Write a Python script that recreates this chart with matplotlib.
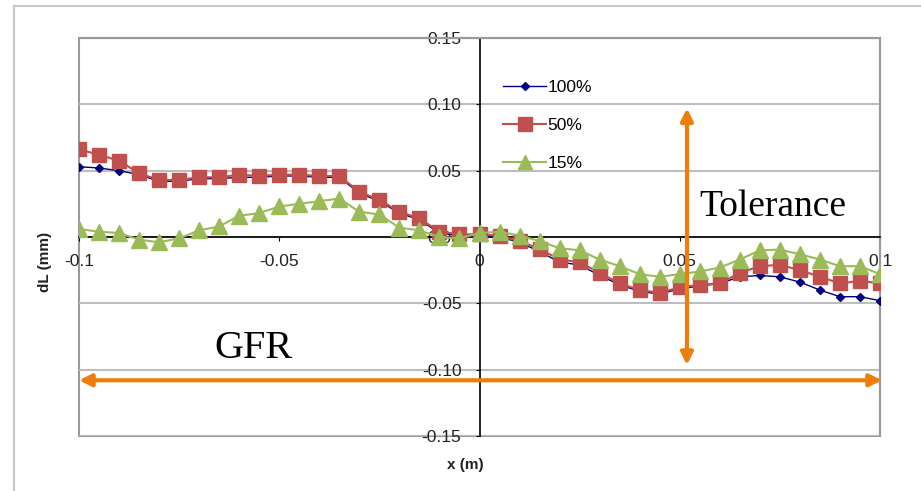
import matplotlib.pyplot as plt
from matplotlib.patches import Rectangle

plt.rcParams['font.family'] = ['Liberation Sans', 'DejaVu Sans']

# x positions (m), every 5 mm from -0.1 to 0.1
x = [round(-0.1 + 0.005 * i, 3) for i in range(41)]

dl_100 = [0.053, 0.052, 0.050, 0.047, 0.042, 0.042, 0.044, 0.044, 0.045, 0.045,
          0.046, 0.046, 0.045, 0.045, 0.033, 0.027, 0.018, 0.013, 0.003, 0.001,
          0.001, 0.000, -0.004, -0.011, -0.019, -0.021, -0.029, -0.036, -0.041, -0.043,
          -0.039, -0.037, -0.035, -0.030, -0.029, -0.030, -0.034, -0.040, -0.045, -0.045,
          -0.048]
dl_50 = [0.066, 0.062, 0.0575, 0.048, 0.043, 0.043, 0.045, 0.045, 0.047, 0.046,
         0.047, 0.047, 0.046, 0.046, 0.034, 0.028, 0.019, 0.014, 0.004, 0.002,
         0.002, 0.001, -0.003, -0.009, -0.017, -0.019, -0.027, -0.035, -0.040, -0.042,
         -0.038, -0.036, -0.035, -0.027, -0.022, -0.021, -0.025, -0.030, -0.035, -0.033,
         -0.035]
dl_15 = [0.006, 0.004, 0.003, -0.002, -0.004, -0.001, 0.005, 0.008, 0.016, 0.018,
         0.023, 0.025, 0.027, 0.029, 0.019, 0.017, 0.007, 0.005, 0.000, -0.001,
         0.003, 0.004, 0.001, -0.003, -0.0085, -0.010, -0.017, -0.022, -0.028, -0.030,
         -0.028, -0.026, -0.023, -0.017, -0.010, -0.0095, -0.013, -0.017, -0.022, -0.022,
         -0.028]

xticks = [-0.1, -0.05, 0, 0.05, 0.1]
xtick_labels = ['-0.1', '-0.05', '0', '0.05', '0.1']
yticks = [-0.15, -0.10, -0.05, 0.00, 0.05, 0.10, 0.15]

orange = '#EF7D0B'
frame_gray = '#9A9A9A'

fig = plt.figure(figsize=(9.21, 4.91), dpi=100)
ax = fig.add_axes([79 / 921, 1 - 436 / 491, 801 / 921, 398 / 491])

# slide frame lines
fig.add_artist(plt.Line2D([14 / 921, 14 / 921], [0, 1 - 6 / 491], transform=fig.transFigure,
                          color='#C8C8C8', lw=1.5))
fig.add_artist(plt.Line2D([14 / 921, 1], [1 - 6 / 491, 1 - 6 / 491], transform=fig.transFigure,
                          color='#C8C8C8', lw=1.5))

ax.plot(x, dl_100, color='#000080', marker='D', markersize=4, lw=1, label='100%', zorder=3)
ax.plot(x, dl_50, color='#C0504D', marker='s', markersize=10.5, lw=1.5, label='50%', zorder=4)
ax.plot(x, dl_15, color='#9BBB59', marker='^', markersize=11, lw=1.5, label='15%', zorder=5)

ax.set_xlim(-0.1, 0.1)
ax.set_ylim(-0.15, 0.15)

for yv in yticks:
    ax.axhline(yv, color='#BEBEBE', lw=1.5, zorder=1)

# axes cross at zero
ax.spines['left'].set_position(('data', 0))
ax.spines['bottom'].set_position(('data', 0))
ax.spines['left'].set_color('black')
ax.spines['bottom'].set_color('black')
ax.spines['left'].set_linewidth(1.2)
ax.spines['bottom'].set_linewidth(1.2)
for s in ['top', 'right']:
    ax.spines[s].set_color(frame_gray)
    ax.spines[s].set_linewidth(1.5)
ax.add_patch(Rectangle((0, 0), 1, 1, transform=ax.transAxes, fill=False,
                       edgecolor=frame_gray, lw=1.5, zorder=0.5, clip_on=False))

ax.set_xticks(xticks)
ax.set_xticklabels(xtick_labels)
ax.set_yticks(yticks)
ax.set_yticklabels(['%.2f' % v for v in yticks])
ax.tick_params(axis='both', labelsize=12.5, length=3, color='black', labelcolor='#222222')
ax.tick_params(axis='x', pad=9)
ax.tick_params(axis='y', pad=10)

fig.text(465 / 921, 1 - 465 / 491, 'x (m)', fontsize=11, fontweight='bold', ha='center', va='center',
         color='#222222')
fig.text(45 / 921, 1 - 262 / 491, 'dL (mm)', fontsize=11, fontweight='bold', rotation=90,
         ha='center', va='center', color='#222222')

leg = ax.legend(loc='upper left', bbox_to_anchor=(424 / 801, 1 - 42 / 398), frameon=False,
                fontsize=12.5, handlelength=2.5, labelspacing=1.3, handletextpad=0.05,
                markerscale=0.9, borderaxespad=0, borderpad=0)

# tolerance / GFR annotations
ax.annotate('', xy=(0.0518, 0.097), xytext=(0.0518, -0.0965),
            arrowprops=dict(arrowstyle='<|-|>', color=orange, lw=3, mutation_scale=18,
                            shrinkA=0, shrinkB=0),
            zorder=6)
ax.annotate('', xy=(-0.1, -0.108), xytext=(0.1005, -0.108),
            arrowprops=dict(arrowstyle='<|-|>', color=orange, lw=3, mutation_scale=18,
                            shrinkA=0, shrinkB=0),
            zorder=6, annotation_clip=False)
fig.text(699 / 921, 1 - 207 / 491, 'Tolerance', fontsize=27, family='Liberation Serif', va='center')
fig.text(214 / 921, 1 - 348 / 491, 'GFR', fontsize=29, family='Liberation Serif', va='center')

fig.savefig('out.png', dpi=100)
